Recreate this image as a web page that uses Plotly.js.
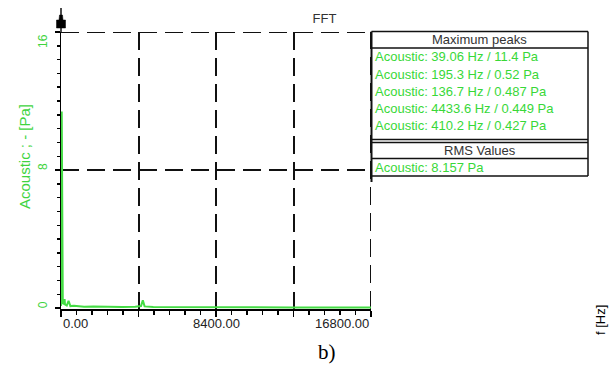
<!DOCTYPE html>
<html>
<head>
<meta charset="utf-8">
<script src="https://cdn.plot.ly/plotly-3.0.1.min.js"></script>
<style>html,body{margin:0;padding:0;background:#fff;}#chart{width:611px;height:376px;}</style>
</head>
<body>
<div id="chart"></div>
<script>
// ---- data ----
var freqHz = [0, 19.53, 39.06, 58.59, 78.13, 97.66, 117.2, 136.7, 156.3, 175.8, 195.3, 214.8, 253.9, 312.5, 410.2, 507.8, 703.1, 937.5, 1250, 1757.8, 2500, 3320, 4023, 4335.9, 4433.6, 4531.3, 5000, 6250, 8000, 10000, 12500, 14800, 16800];
var ampPa = [0.12, 0.9, 11.4, 1.2, 0.35, 0.3, 0.25, 0.487, 0.2, 0.3, 0.52, 0.22, 0.18, 0.15, 0.427, 0.12, 0.14, 0.1, 0.08, 0.09, 0.07, 0.06, 0.08, 0.12, 0.449, 0.1, 0.06, 0.05, 0.05, 0.04, 0.04, 0.04, 0.04];
var xTickVals = [0, 8400, 16800];
var xTickText = ["0.00", "8400.00", "16800.00"];
var xGridVals = [0, 4200, 8400, 12600, 16800];
var yTickVals = [0, 8, 16];
var yTickText = ["0", "8", "16"];
var peakFreqs = ["39.06", "195.3", "136.7", "4433.6", "410.2"];
var peakAmps = ["11.4", "0.52", "0.487", "0.449", "0.427"];
var rmsValue = "8.157";
var seriesName = "Acoustic";
var chartTitle = "FFT";
var yTitle = "Acoustic ; - [Pa]";
var xTitle = "f [Hz]";
var panelLabel = "b)";
var peaksHeader = "Maximum peaks";
var rmsHeader = "RMS Values";

// ---- layout helpers (pixel -> paper) ----
var L = 61, R = 371, T = 32, B = 309;
function px(x){ return (x - L) / (R - L); }
function py(y){ return (B - y) / (B - T); }

var green = '#3fd43f';
var textGreen = '#38d838';
var font = 'Liberation Sans, Arial, sans-serif';
var gridDash = '18px,8px';
var gridColor = '#111';
var gridW = 2;

var annotations = [];
// x tick labels
var xanch = ['left', 'center', 'right'];
for (var i = 0; i < xTickVals.length; i++) {
  annotations.push({x: xTickVals[i], xref: 'x', y: py(323), yref: 'paper', text: xTickText[i], showarrow: false,
    xanchor: xanch[i], yanchor: 'middle', font: {family: font, size: 13, color: '#222'}});
}
// y tick labels (rotated)
var yshift = [3, 3, -9];
for (var j = 0; j < yTickVals.length; j++) {
  annotations.push({x: px(43), xref: 'paper', y: yTickVals[j], yref: 'y', yshift: yshift[j], text: yTickText[j], showarrow: false,
    textangle: -90, xanchor: 'center', yanchor: 'middle', font: {family: font, size: 12, color: green}});
}
// y title
annotations.push({x: px(24), xref: 'paper', y: py(157), yref: 'paper', text: yTitle, showarrow: false, textangle: -90,
  xanchor: 'center', yanchor: 'middle', font: {family: font, size: 15, color: green}});
// x title (far right, rotated)
annotations.push({x: px(600), xref: 'paper', y: py(320), yref: 'paper', text: xTitle, showarrow: false, textangle: -90,
  xanchor: 'center', yanchor: 'middle', font: {family: font, size: 13, color: '#000'}});
// panel label
annotations.push({x: px(327), xref: 'paper', y: py(352), yref: 'paper', text: panelLabel, showarrow: false,
  xanchor: 'center', yanchor: 'middle', font: {family: 'Liberation Serif, Times New Roman, serif', size: 21, color: '#000'}});
// legend box texts
var boxL = 371.5, boxR = 588, boxC = (boxL + boxR) / 2;
annotations.push({x: px(boxC), xref: 'paper', y: py(40), yref: 'paper', text: peaksHeader, showarrow: false,
  xanchor: 'center', yanchor: 'middle', font: {family: font, size: 13, color: '#333'}});
var rowY = [57, 74, 91, 108, 125];
for (var k = 0; k < peakFreqs.length; k++) {
  annotations.push({x: px(373), xref: 'paper', y: py(rowY[k]), yref: 'paper',
    text: seriesName + ': ' + peakFreqs[k] + ' Hz / ' + peakAmps[k] + ' Pa', showarrow: false,
    xanchor: 'left', yanchor: 'middle', font: {family: font, size: 13, color: textGreen}});
}
annotations.push({x: px(boxC), xref: 'paper', y: py(150.5), yref: 'paper', text: rmsHeader, showarrow: false,
  xanchor: 'center', yanchor: 'middle', font: {family: font, size: 13, color: '#333'}});
annotations.push({x: px(373), xref: 'paper', y: py(167.5), yref: 'paper', text: seriesName + ': ' + rmsValue + ' Pa', showarrow: false,
  xanchor: 'left', yanchor: 'middle', font: {family: font, size: 13, color: textGreen}});

function hline(y, x0, x1, w){ return {type:'line', xref:'paper', yref:'paper', x0:px(x0), x1:px(x1), y0:py(y), y1:py(y), line:{color:'#111', width:w||1.5}}; }
function vline(x, y0, y1, w){ return {type:'line', xref:'paper', yref:'paper', x0:px(x), x1:px(x), y0:py(y0), y1:py(y1), line:{color:'#111', width:w||1.5}}; }

var shapes = [
  // edge grid lines (top at y max, right at x max), dashed like the inner grid
  {type:'line', xref:'paper', yref:'y', x0:0, x1:1, y0:yTickVals[yTickVals.length-1], y1:yTickVals[yTickVals.length-1],
   line:{color:gridColor, width:gridW, dash:gridDash}, layer:'below'},
  {type:'line', xref:'x', yref:'paper', x0:xGridVals[xGridVals.length-1], x1:xGridVals[xGridVals.length-1], y0:0, y1:1,
   line:{color:gridColor, width:gridW, dash:gridDash}, layer:'below'},
  hline(31.5, boxL, boxR),
  vline(boxR, 31.5, 176),
  hline(48, boxL, boxR),
  hline(139.5, boxL, boxR),
  hline(142.5, boxL, boxR),
  hline(158.5, boxL, boxR),
  hline(176, boxL, boxR),
  vline(boxL, 31.5, 182, 2),
  // axis arrow stem + head
  vline(61, 8, 32, 1.5),
  {type:'path', xref:'paper', yref:'paper',
   path: 'M ' + px(59.5) + ' ' + py(15) + ' L ' + px(62.5) + ' ' + py(15) + ' L ' + px(63) + ' ' + py(20) +
         ' L ' + px(65.5) + ' ' + py(20) + ' L ' + px(65.5) + ' ' + py(28) + ' L ' + px(56.5) + ' ' + py(28) +
         ' L ' + px(56.5) + ' ' + py(20) + ' L ' + px(59) + ' ' + py(20) + ' Z',
   fillcolor: '#000', line: {color: '#000', width: 0.5}}
];

var trace = {x: freqHz, y: ampPa, type: 'scatter', mode: 'lines', name: seriesName,
  line: {color: '#45dc45', width: 2}, cliponaxis: false, hoverinfo: 'skip'};

var layout = {
  width: 611, height: 376,
  margin: {l: L, r: 611 - R, t: T, b: 376 - B, pad: 0},
  paper_bgcolor: '#fff', plot_bgcolor: '#fff',
  showlegend: false,
  title: {text: chartTitle, x: 324.5 / 611, xref: 'container', xanchor: 'center', y: 1 - 18 / 376, yref: 'container', yanchor: 'middle',
    font: {family: font, size: 13, color: '#333'}},
  xaxis: {range: [0, 16800], tickmode: 'array', tickvals: xGridVals, showticklabels: false,
    ticks: 'outside', ticklen: 6, tickwidth: 1.5, tickcolor: '#000',
    showline: true, linecolor: '#000', linewidth: 1.5, zeroline: false,
    showgrid: true, gridcolor: gridColor, gridwidth: gridW, griddash: gridDash,
    minor: {tickmode: 'linear', tick0: 0, dtick: 840, ticks: 'outside', ticklen: 4, tickwidth: 1.2, tickcolor: '#000', showgrid: false},
    layer: 'below traces', fixedrange: true},
  yaxis: {range: [-0.05, 16], tickmode: 'array', tickvals: yTickVals, showticklabels: false,
    ticks: 'outside', ticklen: 5, tickwidth: 1.5, tickcolor: '#000',
    showline: true, linecolor: '#000', linewidth: 1.5, zeroline: false,
    showgrid: true, gridcolor: gridColor, gridwidth: gridW, griddash: gridDash,
    minor: {tickmode: 'linear', tick0: 0, dtick: 0.8, ticks: 'outside', ticklen: 3, tickwidth: 1.5, tickcolor: '#000', showgrid: false},
    layer: 'below traces', fixedrange: true},
  annotations: annotations,
  shapes: shapes
};

Plotly.newPlot('chart', [trace], layout, {displayModeBar: false, staticPlot: true});
</script>
</body>
</html>
